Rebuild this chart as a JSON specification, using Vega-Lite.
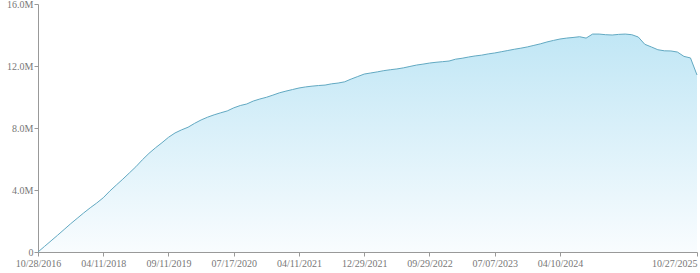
{
 "$schema": "https://vega.github.io/schema/vega-lite/v6.json",
 "width": 659,
 "height": 248,
 "autosize": {"type": "none"},
 "padding": {"left": 38, "top": 4, "right": 3, "bottom": 21},
 "background": "white",
 "config": {
  "view": {"stroke": null},
  "axis": {"labelFont": "Liberation Serif", "labelFontSize": 10, "labelColor": "#777777", "domainColor": "#999999", "tickColor": "#999999", "grid": false, "title": null}
 },
 "data": {"values": [
  {"date": "10/28/2016", "value": 0},
  {"date": "12/20/2016", "value": 360000},
  {"date": "02/11/2017", "value": 720000},
  {"date": "04/05/2017", "value": 1080000},
  {"date": "05/28/2017", "value": 1450000},
  {"date": "07/20/2017", "value": 1820000},
  {"date": "09/11/2017", "value": 2170000},
  {"date": "11/03/2017", "value": 2520000},
  {"date": "12/26/2017", "value": 2850000},
  {"date": "02/17/2018", "value": 3160000},
  {"date": "04/11/2018", "value": 3500000},
  {"date": "06/02/2018", "value": 3930000},
  {"date": "07/24/2018", "value": 4320000},
  {"date": "09/14/2018", "value": 4700000},
  {"date": "11/05/2018", "value": 5100000},
  {"date": "12/27/2018", "value": 5500000},
  {"date": "02/17/2019", "value": 5950000},
  {"date": "04/10/2019", "value": 6360000},
  {"date": "06/01/2019", "value": 6720000},
  {"date": "07/23/2019", "value": 7050000},
  {"date": "09/11/2019", "value": 7400000},
  {"date": "10/12/2019", "value": 7680000},
  {"date": "11/12/2019", "value": 7880000},
  {"date": "12/13/2019", "value": 8050000},
  {"date": "01/13/2020", "value": 8300000},
  {"date": "02/13/2020", "value": 8520000},
  {"date": "03/15/2020", "value": 8700000},
  {"date": "04/15/2020", "value": 8850000},
  {"date": "05/16/2020", "value": 8980000},
  {"date": "06/16/2020", "value": 9100000},
  {"date": "07/17/2020", "value": 9300000},
  {"date": "08/13/2020", "value": 9450000},
  {"date": "09/09/2020", "value": 9550000},
  {"date": "10/06/2020", "value": 9740000},
  {"date": "11/02/2020", "value": 9870000},
  {"date": "11/29/2020", "value": 9980000},
  {"date": "12/26/2020", "value": 10120000},
  {"date": "01/22/2021", "value": 10270000},
  {"date": "02/18/2021", "value": 10380000},
  {"date": "03/17/2021", "value": 10480000},
  {"date": "04/11/2021", "value": 10580000},
  {"date": "05/07/2021", "value": 10650000},
  {"date": "06/02/2021", "value": 10700000},
  {"date": "06/28/2021", "value": 10740000},
  {"date": "07/24/2021", "value": 10770000},
  {"date": "08/19/2021", "value": 10850000},
  {"date": "09/14/2021", "value": 10900000},
  {"date": "10/10/2021", "value": 10980000},
  {"date": "11/05/2021", "value": 11160000},
  {"date": "12/01/2021", "value": 11320000},
  {"date": "12/29/2021", "value": 11480000},
  {"date": "01/25/2022", "value": 11550000},
  {"date": "02/21/2022", "value": 11620000},
  {"date": "03/20/2022", "value": 11700000},
  {"date": "04/16/2022", "value": 11760000},
  {"date": "05/13/2022", "value": 11810000},
  {"date": "06/09/2022", "value": 11880000},
  {"date": "07/06/2022", "value": 11970000},
  {"date": "08/02/2022", "value": 12060000},
  {"date": "08/29/2022", "value": 12120000},
  {"date": "09/29/2022", "value": 12190000},
  {"date": "10/27/2022", "value": 12240000},
  {"date": "11/24/2022", "value": 12280000},
  {"date": "12/22/2022", "value": 12320000},
  {"date": "01/19/2023", "value": 12440000},
  {"date": "02/16/2023", "value": 12500000},
  {"date": "03/16/2023", "value": 12580000},
  {"date": "04/13/2023", "value": 12650000},
  {"date": "05/11/2023", "value": 12700000},
  {"date": "06/08/2023", "value": 12780000},
  {"date": "07/07/2023", "value": 12840000},
  {"date": "08/04/2023", "value": 12920000},
  {"date": "09/01/2023", "value": 13000000},
  {"date": "09/29/2023", "value": 13080000},
  {"date": "10/27/2023", "value": 13150000},
  {"date": "11/24/2023", "value": 13230000},
  {"date": "12/22/2023", "value": 13330000},
  {"date": "01/19/2024", "value": 13430000},
  {"date": "02/16/2024", "value": 13550000},
  {"date": "03/15/2024", "value": 13650000},
  {"date": "04/10/2024", "value": 13740000},
  {"date": "05/07/2024", "value": 13800000},
  {"date": "06/03/2024", "value": 13840000},
  {"date": "06/30/2024", "value": 13890000},
  {"date": "07/27/2024", "value": 13800000},
  {"date": "08/23/2024", "value": 14060000},
  {"date": "09/19/2024", "value": 14060000},
  {"date": "10/16/2024", "value": 14020000},
  {"date": "11/12/2024", "value": 14000000},
  {"date": "12/09/2024", "value": 14040000},
  {"date": "01/05/2025", "value": 14060000},
  {"date": "02/01/2025", "value": 14020000},
  {"date": "02/28/2025", "value": 13870000},
  {"date": "03/27/2025", "value": 13400000},
  {"date": "04/23/2025", "value": 13230000},
  {"date": "05/20/2025", "value": 13050000},
  {"date": "06/16/2025", "value": 12980000},
  {"date": "07/13/2025", "value": 12970000},
  {"date": "08/09/2025", "value": 12900000},
  {"date": "09/05/2025", "value": 12620000},
  {"date": "10/02/2025", "value": 12520000},
  {"date": "10/27/2025", "value": 11420000}
 ]},
 "mark": {
  "type": "area",
  "line": {"color": "#62a9c2", "strokeWidth": 1},
  "color": {"gradient": "linear", "x1": 0, "y1": 0, "x2": 0, "y2": 1, "stops": [{"offset": 0, "color": "#a6dcf1"}, {"offset": 1, "color": "#f6fbfe"}]}
 },
 "encoding": {
  "x": {
   "field": "date", "type": "ordinal", "sort": null,
   "scale": {"type": "point", "padding": 0},
   "axis": {
    "values": ["10/28/2016", "04/11/2018", "09/11/2019", "07/17/2020", "04/11/2021", "12/29/2021", "09/29/2022", "07/07/2023", "04/10/2024", "10/27/2025"],
    "labelAngle": 0, "tickSize": 4, "labelPadding": 2,
    "labelAlign": {"condition": {"test": "datum.value == '10/27/2025'", "value": "right"}, "value": "center"}
   }
  },
  "y": {
   "field": "value", "type": "quantitative",
   "scale": {"domain": [0, 16000000], "nice": false},
   "axis": {"values": [0, 4000000, 8000000, 12000000, 16000000], "labelExpr": "datum.value == 0 ? '0' : format(datum.value / 1e6, '.1f') + 'M'", "tickSize": 4, "labelPadding": 1}
  }
 }
}
